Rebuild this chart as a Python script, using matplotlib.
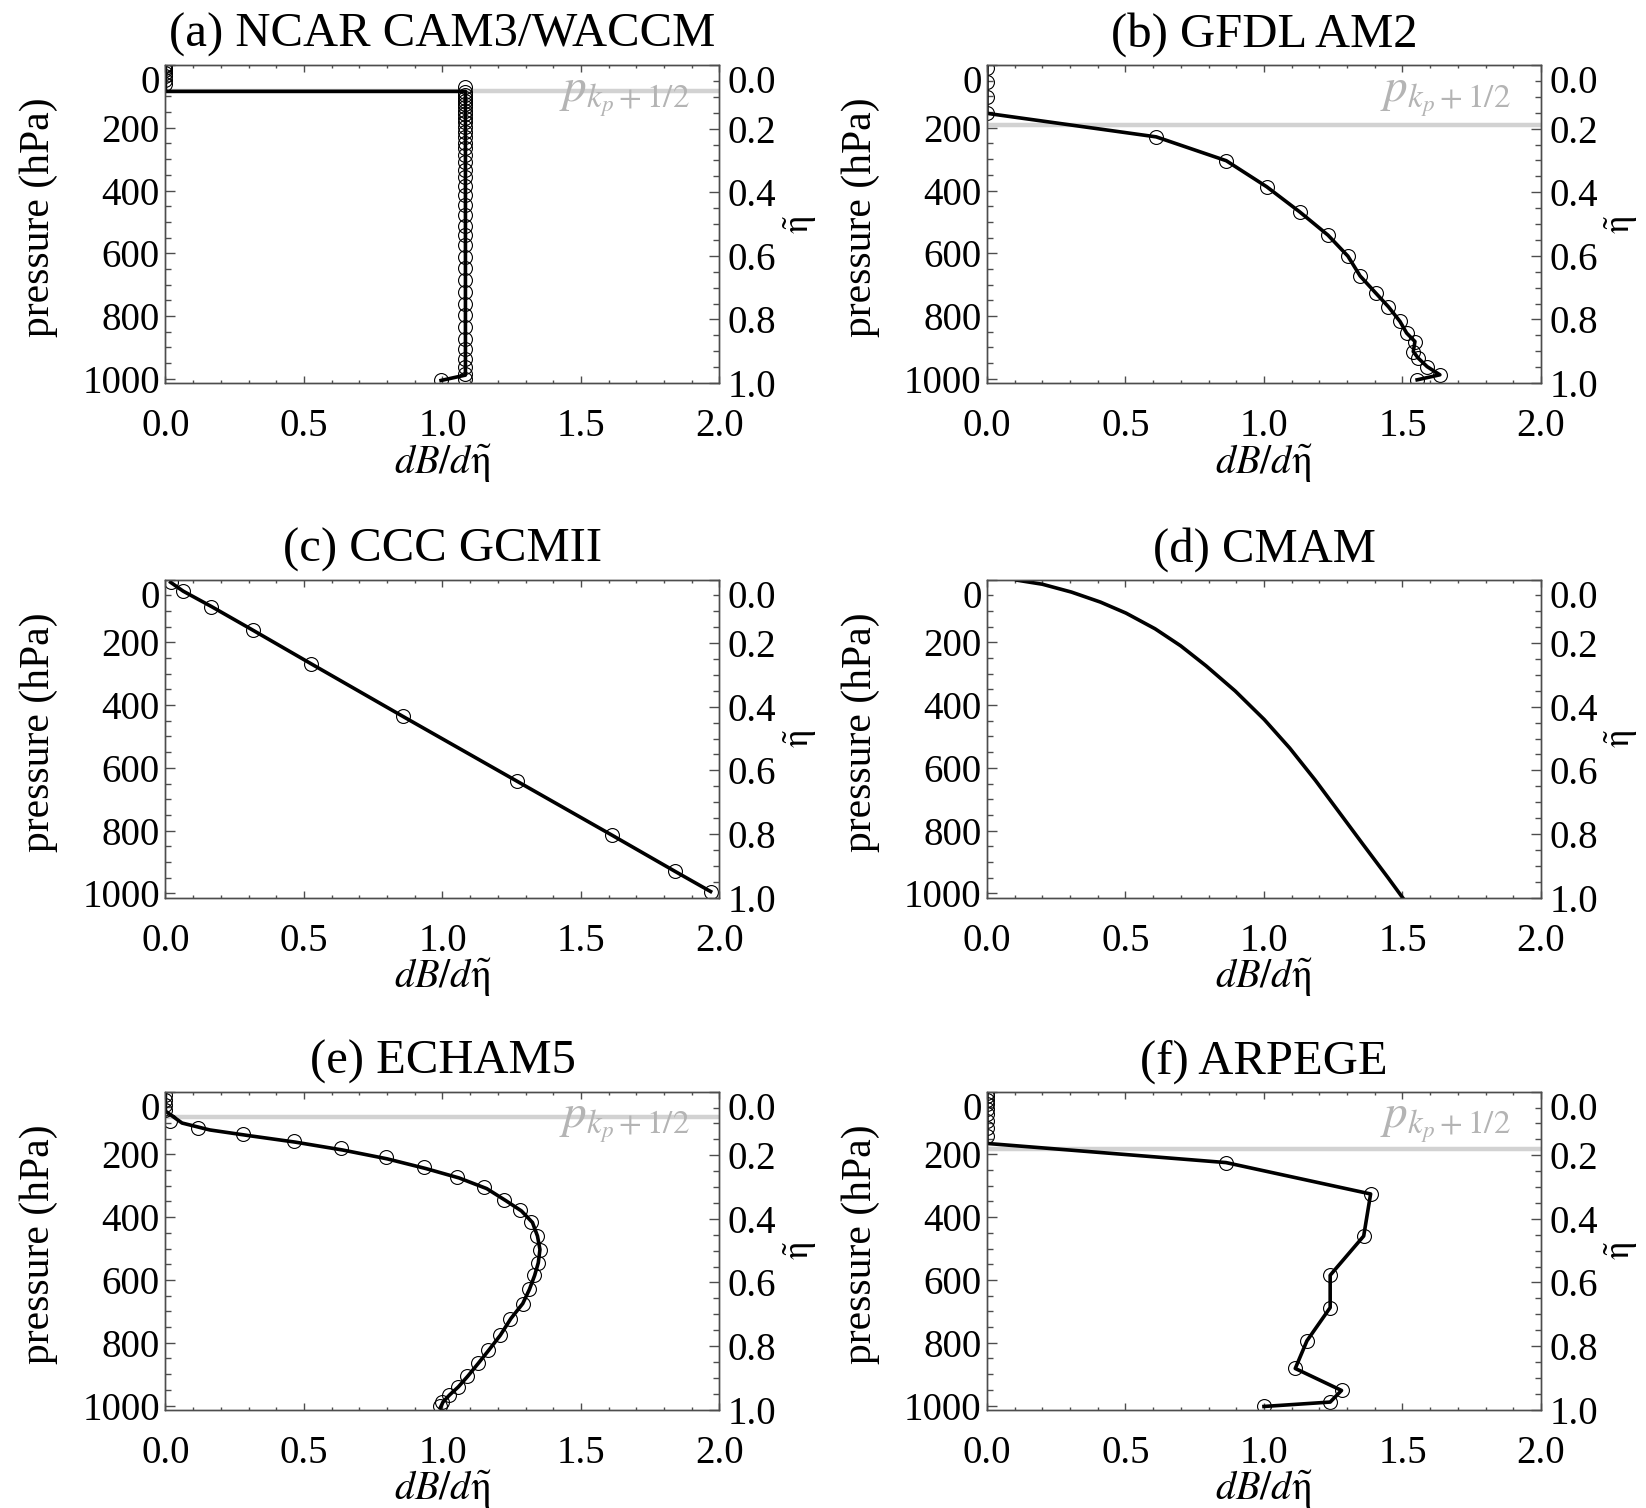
import matplotlib
matplotlib.use("Agg")
import matplotlib.pyplot as plt
from matplotlib.ticker import MultipleLocator, FormatStrFormatter

plt.rcParams['font.family'] = ['Liberation Serif', 'DejaVu Serif']
plt.rcParams['mathtext.fontset'] = 'stix'

P_SURF = 1013.25

# (a) NCAR CAM3/WACCM
a_title = "(a) NCAR CAM3/WACCM"
a_circ_p = [1, 4, 9, 16, 25, 36, 48, 60,
            71, 85, 96, 106, 115, 124, 135, 146, 157, 170, 183, 197, 213, 229, 247,
            266, 286, 308, 333, 358, 386, 415, 447, 478, 513, 542, 574, 611, 648,
            686, 723, 760, 797, 835, 872, 904, 936, 962, 983, 999, 1005]
a_circ_x = [0.0] * 8 + [1.083] * 40 + [0.995]
a_line_p = [0, 84, 84, 988, 1005]
a_line_x = [0.0, 0.0, 1.083, 1.083, 0.995]
a_pk = 84

# (b) GFDL AM2
b_title = "(b) GFDL AM2"
b_circ_p = [11, 53, 101, 154, 229, 305, 388, 468, 542, 609, 672, 727, 770,
            817, 854, 881, 913, 934, 961, 987, 1003]
b_circ_x = [0.0, 0.0, 0.0, 0.0, 0.611, 0.864, 1.010, 1.129, 1.231, 1.303, 1.347,
            1.404, 1.449, 1.491, 1.515, 1.545, 1.539, 1.557, 1.589, 1.635, 1.553]
b_line_p = [0] + b_circ_p
b_line_x = [0.0] + b_circ_x
b_pk = 191

# (c) CCC GCMII
c_title = "(c) CCC GCMII"
c_circ_p = [9, 37, 86, 161, 268, 436, 642, 815, 930, 994]
c_circ_x = [0.019, 0.064, 0.166, 0.315, 0.525, 0.857, 1.268, 1.613, 1.840, 1.968]
c_line_p = c_circ_p
c_line_x = c_circ_x

# (d) CMAM
d_title = "(d) CMAM"
d_line_p = [2, 15, 40, 72, 107, 157, 211, 275, 355, 446, 537, 639, 735, 842, 949, 1013]
d_line_x = [0.108, 0.200, 0.305, 0.410, 0.502, 0.607, 0.699, 0.791, 0.896, 1.001,
            1.093, 1.185, 1.266, 1.356, 1.447, 1.500]

# (e) ECHAM5
e_title = "(e) ECHAM5"
e_circ_p = [11, 27, 42, 58, 95, 117, 135, 156, 181, 209, 241, 271, 305, 345, 377,
            415, 460, 503, 545, 585, 630, 675, 723, 776, 824, 866, 907, 941, 967,
            989, 1003]
e_circ_x = [0.0, 0.0, 0.0, 0.0, 0.018, 0.119, 0.279, 0.464, 0.635, 0.796, 0.934,
            1.052, 1.150, 1.222, 1.279, 1.321, 1.340, 1.351, 1.345, 1.332, 1.313,
            1.289, 1.245, 1.207, 1.165, 1.127, 1.089, 1.055, 1.023, 1.000, 0.991]
e_line_p = [0, 62, 100, 122, 140, 161, 186, 214, 245, 275, 309, 348, 380, 417, 460,
            503, 545, 585, 630, 675, 723, 776, 824, 866, 907, 941, 967, 989, 1008]
e_line_x = [0.0, 0.0, 0.06, 0.16, 0.30, 0.47, 0.64, 0.80, 0.94, 1.06, 1.16, 1.23,
            1.285, 1.325, 1.343, 1.352, 1.346, 1.333, 1.314, 1.290, 1.247, 1.209,
            1.167, 1.129, 1.091, 1.057, 1.025, 1.002, 0.992]
e_pk = 80

# (f) ARPEGE
f_title = "(f) ARPEGE"
f_circ_p = [5, 15, 27, 40, 55, 72, 92, 115, 140, 226, 326, 460, 585, 688, 794, 882,
            952, 989, 1003]
f_circ_x = [0.0] * 9 + [0.863, 1.385, 1.360, 1.239, 1.239, 1.155, 1.113, 1.280,
                        1.239, 1.000]
f_line_p = [0, 165, 226, 326, 460, 585, 688, 794, 882, 952, 989, 1003]
f_line_x = [0.0, 0.0, 0.863, 1.385, 1.360, 1.239, 1.239, 1.155, 1.113, 1.280,
            1.239, 1.000]
f_pk = 184

X_TICKS = [0.0, 0.5, 1.0, 1.5, 2.0]
P_TICKS = [0, 200, 400, 600, 800, 1000]
ETA_TICKS = [0.0, 0.2, 0.4, 0.6, 0.8, 1.0]

FRAME = '0.3'
TICK_FS = 28


def draw_panel(rect, title, line_x, line_p, circ_x=None, circ_p=None, pk=None):
    ax = fig.add_axes(rect)
    ax.set_xlim(0, 2)
    ax.set_ylim(P_SURF, 0)

    if pk is not None:
        ax.axhline(pk, color='#d2d2d2', lw=3.2, zorder=1)
        ax.text(0.946, 0.965, r'$p_{k_p+\mathit{1/2}}$', transform=ax.transAxes,
                ha='right', va='top', color='#b4b4b4', fontsize=34)
    if circ_x is not None:
        ax.plot(circ_x, circ_p, 'o', mfc='none', mec='black', mew=0.8, ms=10,
                zorder=2)
    ax.plot(line_x, line_p, color='black', lw=2.6, zorder=3)

    for s in ax.spines.values():
        s.set_color(FRAME)
        s.set_linewidth(1.0)

    ax.set_xticks(X_TICKS)
    ax.xaxis.set_minor_locator(MultipleLocator(0.1))
    ax.xaxis.set_major_formatter(FormatStrFormatter('%.1f'))
    ax.set_yticks(P_TICKS)
    ax.yaxis.set_minor_locator(MultipleLocator(50))
    ax.yaxis.set_major_formatter(FormatStrFormatter('%d'))
    ax.tick_params(axis='x', which='both', direction='in', top=True, bottom=True,
                   color=FRAME, labelsize=TICK_FS, pad=18)
    ax.tick_params(axis='x', which='major', length=5, width=1)
    ax.tick_params(axis='x', which='minor', length=2.5, width=1)
    ax.tick_params(axis='y', which='both', direction='in', left=True, right=False,
                   color=FRAME, labelsize=TICK_FS, pad=4)
    ax.tick_params(axis='y', which='major', length=7.5, width=1)
    ax.tick_params(axis='y', which='minor', length=4, width=1)
    ax.yaxis.get_major_ticks()[0].label1.set_verticalalignment('top')

    ax.set_title(title, fontsize=35, pad=13)
    ax.set_xlabel(r'$dB/d\tilde{\mathrm{\eta}}$', fontsize=29)
    ax.xaxis.label.set_verticalalignment('center')
    ax.xaxis.set_label_coords(0.5, -0.25)
    ax.set_ylabel('pressure (hPa)', fontsize=30)
    ax.yaxis.label.set_verticalalignment('center')
    ax.yaxis.set_label_coords(-0.228, 0.52)

    ax2 = ax.twinx()
    ax2.set_ylim(1.0, 0.0)
    ax2.set_yticks(ETA_TICKS)
    ax2.yaxis.set_minor_locator(MultipleLocator(0.05))
    ax2.yaxis.set_major_formatter(FormatStrFormatter('%.1f'))
    ax2.tick_params(axis='y', which='both', direction='in', right=True, left=False,
                    color=FRAME, labelsize=TICK_FS, pad=6)
    ax2.tick_params(axis='y', which='major', length=7.5, width=1)
    ax2.tick_params(axis='y', which='minor', length=4, width=1)
    ax2.yaxis.get_major_ticks()[0].label2.set_verticalalignment('top')
    for s in ax2.spines.values():
        s.set_color(FRAME)
        s.set_linewidth(1.0)
    ax2.set_ylabel(r'$\tilde{\mathrm{\eta}}$', fontsize=26, rotation=90)
    ax2.yaxis.label.set_verticalalignment('center')
    ax2.yaxis.set_label_coords(1.145, 0.5)
    return ax


fig = plt.figure(figsize=(16.46, 15.08), dpi=100)

W = 0.3366
H = 0.2109
L1, L2 = 0.1005, 0.5996
B1, B2, B3 = 0.7460, 0.4048, 0.0652

draw_panel([L1, B1, W, H], a_title, a_line_x, a_line_p, a_circ_x, a_circ_p, a_pk)
draw_panel([L2, B1, W, H], b_title, b_line_x, b_line_p, b_circ_x, b_circ_p, b_pk)
draw_panel([L1, B2, W, H], c_title, c_line_x, c_line_p, c_circ_x, c_circ_p)
draw_panel([L2, B2, W, H], d_title, d_line_x, d_line_p)
draw_panel([L1, B3, W, H], e_title, e_line_x, e_line_p, e_circ_x, e_circ_p, e_pk)
draw_panel([L2, B3, W, H], f_title, f_line_x, f_line_p, f_circ_x, f_circ_p, f_pk)

fig.savefig("out.png", dpi=100)
plt.close(fig)
